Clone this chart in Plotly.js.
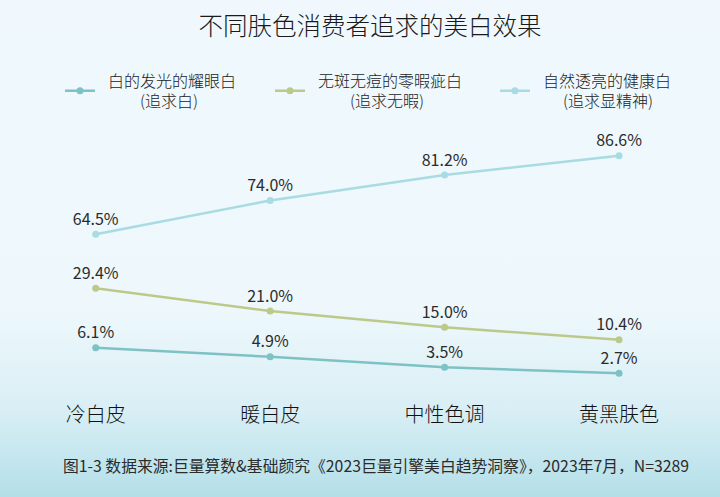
<!DOCTYPE html>
<html>
<head>
<meta charset="utf-8">
<script src="https://cdn.plot.ly/plotly-3.0.1.min.js"></script>
<style>
  html, body { margin: 0; padding: 0; }
  body { width: 720px; height: 497px; background: linear-gradient(to bottom, #f0f8fd 0%, #eef8fc 62%, #d9eff5 82%, #b4dfe8 100%); }
  #chart { width: 720px; height: 497px; }
</style>
</head>
<body>
<div id="chart"></div>
<script>
const categories = ['冷白皮', '暖白皮', '中性色调', '黄黑肤色'];
const seriesNames = [
  '\u2002白的发光的耀眼白<br>\u2002\u3000\u3000(追求白)',
  '\u2002无斑无痘的零暇疵白<br>\u2002\u3000\u3000(追求无暇)',
  '\u2002自然透亮的健康白<br>\u2002\u3000\u2005(追求显精神)'
];
const radiantWhite = [6.1, 4.9, 3.5, 2.7];
const flawlessWhite = [29.4, 21.0, 15.0, 10.4];
const healthyWhite = [64.5, 74.0, 81.2, 86.6];
const titleText = '不同肤色消费者追求的美白效果';
const sourceText = '图1-3 数据来源:巨量算数&基础颜究《2023巨量引擎美白趋势洞察》，2023年7月，N=3289';

const colors = ['#7dc2c4', '#bcc98a', '#a9dbe2'];
const legendWidths = [165, 180, 165];
const FONT = '"Noto Sans CJK SC", "Noto Sans", sans-serif';

function mk(y, name, color, yaxis, lw) {
  return {
    x: categories, y: y, name: name, yaxis: yaxis,
    type: 'scatter', mode: 'lines+markers+text',
    line: { color: color, width: 2.5 },
    marker: { color: color, size: 7 },
    texttemplate: '%{y:.1f}%',
    textposition: 'top center',
    textfont: { family: FONT, size: 16, color: '#2b2b2b', weight: 400 },
    cliponaxis: false,
    legendwidth: lw,
    hoverinfo: 'skip'
  };
}

const data = [
  mk(radiantWhite, seriesNames[0], colors[0], 'y', legendWidths[0]),
  mk(flawlessWhite, seriesNames[1], colors[1], 'y2', legendWidths[1]),
  mk(healthyWhite, seriesNames[2], colors[2], 'y3', legendWidths[2])
];

const layout = {
  width: 720, height: 497,
  paper_bgcolor: 'rgba(0,0,0,0)',
  plot_bgcolor: 'rgba(0,0,0,0)',
  font: { family: FONT, color: '#333' },
  margin: { l: 20, r: 20, t: 130, b: 102, autoexpand: false },
  title: {
    text: titleText,
    font: { family: FONT, size: 24.5, color: '#1a1a1a', weight: 300 },
    xref: 'container', x: 370 / 720, xanchor: 'center',
    yref: 'container', y: 1 - 26 / 497, yanchor: 'middle'
  },
  showlegend: true,
  legend: {
    orientation: 'h',
    xref: 'container', yref: 'container',
    x: 60 / 720, xanchor: 'left',
    y: 1 - 63.5 / 497, yanchor: 'top',
    font: { family: FONT, size: 16, color: '#222', weight: 300 },
    bgcolor: 'rgba(0,0,0,0)',
    traceorder: 'normal'
  },
  xaxis: {
    type: 'category',
    range: [-0.434, 3.464],
    showgrid: false, zeroline: false, showline: false, ticks: '',
    tickfont: { family: FONT, size: 20, color: '#111', weight: 300 },
    ticklabelstandoff: 6,
    fixedrange: true
  },
  yaxis: { range: [-0.18, 35.01], visible: false, fixedrange: true },
  yaxis2: { range: [-10.05, 87.92], visible: false, overlaying: 'y', fixedrange: true },
  yaxis3: { range: [19.32, 93.82], visible: false, overlaying: 'y', fixedrange: true },
  annotations: [{
    text: sourceText,
    xref: 'paper', yref: 'paper',
    x: 41 / 680, xanchor: 'left',
    y: -(465 - 395) / 265, yanchor: 'middle',
    showarrow: false,
    font: { family: FONT, size: 15.8, color: '#2b2b2b' }
  }]
};

Plotly.newPlot('chart', data, layout, { displayModeBar: false, staticPlot: true });
</script>
</body>
</html>
